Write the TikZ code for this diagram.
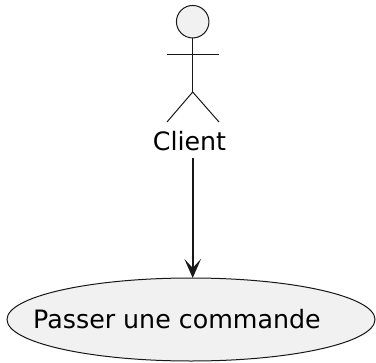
\documentclass[tikz,border=0pt]{standalone}
\usepackage{fontspec}
\setmainfont{DejaVu Sans}
\usetikzlibrary{arrows.meta,shapes.geometric}
\definecolor{fillgray}{HTML}{F1F1F1}
\definecolor{linegray}{HTML}{181818}
\tikzset{
  actorline/.style={draw=linegray,line width=1bp},
  label/.style={inner sep=0pt,text=black,font=\fontsize{25.3bp}{30bp}\selectfont},
  usecase/.style={ellipse,draw=linegray,fill=fillgray,line width=1bp,inner sep=0pt,minimum width=368bp,minimum height=83bp},
  link/.style={draw=linegray,line width=2.2bp,-{Stealth[length=19bp,width=16.5bp,inset=9bp]}}
}
\begin{document}
\begin{tikzpicture}[x=1bp,y=-1bp]
\useasboundingbox (0,0) rectangle (376,363);
\node[circle,draw=linegray,fill=fillgray,line width=1bp,minimum size=32.5bp,inner sep=0pt] (head) at (192.7,21.7) {};
\coordinate (hip) at (192.7,92);
\coordinate (armL) at (167,54);
\coordinate (armR) at (219,54);
\coordinate (legL) at (167,122);
\coordinate (legR) at (219,122);
\draw[actorline] (head.south) -- (hip);
\draw[actorline] (armL) -- (armR);
\draw[actorline] (legL) -- (hip) -- (legR);
\node[label,anchor=base] (client) at (189.5,150) {Client};
\node[usecase] (uc) at (191,319.5) {};
\node[label,anchor=base] (uctext) at (177,328.5) {Passer une commande};
\coordinate (start) at (192.7,158);
\coordinate (end) at (192.7,278);
\draw[link] (start) -- (end);
\end{tikzpicture}
\end{document}
